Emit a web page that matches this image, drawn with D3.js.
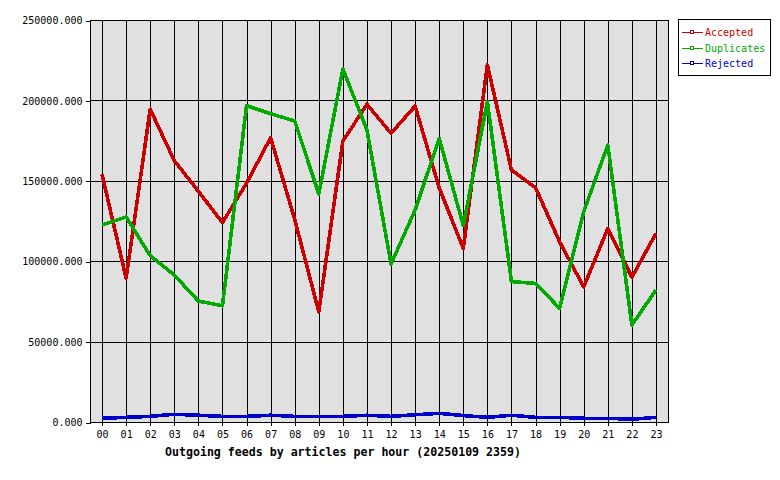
<!DOCTYPE html>
<html><head><meta charset="utf-8">
<script src="https://cdn.jsdelivr.net/npm/d3@7"></script>
<style>body{margin:0;background:#fff}svg{display:block}</style>
</head><body>
<svg id="c" width="780" height="480"></svg>
<script>
const hours = ["00","01","02","03","04","05","06","07","08","09","10","11","12","13","14","15","16","17","18","19","20","21","22","23"];
const accepted = [154000,89400,194500,162500,143500,124000,148500,176800,126000,68500,174700,197600,179500,196500,145500,108000,222000,156700,145700,112000,84000,120400,90000,117300];
const duplicates = [122500,127500,103400,91400,75200,72300,196700,191700,187200,141800,219500,181600,98300,131800,176400,122100,199200,87300,86200,70700,130800,172300,60300,82100];
const rejected = [2300,2900,3500,4800,4200,3500,3500,4200,3500,3500,3500,4200,3500,4500,5400,4000,2900,4200,2900,2900,2300,2300,1700,2900];
const yTicks = [0,50000,100000,150000,200000,250000];
const seriesNames = ["Accepted","Duplicates","Rejected"];
const colors = ["#cc0000","#00aa00","#0000cc"];
const title = "Outgoing feeds by articles per hour (20250109 2359)";

const svg = d3.select("#c");
const L = 90, R = 668, T = 20, B = 422;
const x = d3.scalePoint().domain(hours).range([L, R]).padding(0.5);
const y = d3.scaleLinear().domain([0, 250000]).range([B, T]);
const mono = "'DejaVu Sans Mono', monospace";

svg.append("rect").attr("x", L).attr("y", T).attr("width", R - L).attr("height", B - T).attr("fill", "#e0e0e0");

// grid
const g = svg.append("g").attr("shape-rendering", "crispEdges");
g.selectAll("line.h").data(yTicks).join("line")
  .attr("x1", L).attr("x2", R).attr("y1", d => Math.round(y(d)) + 0.5).attr("y2", d => Math.round(y(d)) + 0.5)
  .attr("stroke", "#000");
g.selectAll("line.v").data(hours).join("line")
  .attr("x1", d => Math.round(x(d)) + 0.5).attr("x2", d => Math.round(x(d)) + 0.5).attr("y1", T).attr("y2", B + 4)
  .attr("stroke", "#000");

// axes
const yAxis = d3.axisLeft(y).tickValues(yTicks).tickFormat(d3.format(".3f")).tickSize(5).tickPadding(3);
const ya = svg.append("g").attr("transform", `translate(${L + 0.5},0.5)`).call(yAxis);
ya.select(".domain").remove();
ya.selectAll("line").attr("shape-rendering", "crispEdges");
ya.selectAll("text").attr("font-family", mono).attr("font-size", 10).attr("fill", "#000");

const xAxis = d3.axisBottom(x).tickSize(0).tickPadding(9);
const xa = svg.append("g").attr("transform", `translate(0,${B})`).call(xAxis);
xa.select(".domain").remove();
xa.selectAll("text").attr("font-family", mono).attr("font-size", 10).attr("fill", "#000");

// border
svg.append("rect").attr("x", L + 0.5).attr("y", T + 0.5).attr("width", R - L).attr("height", B - T)
  .attr("fill", "none").attr("stroke", "#000").attr("shape-rendering", "crispEdges");

// lines
const line = d3.line().x((d, i) => x(hours[i])).y(d => y(d));
[accepted, duplicates, rejected].forEach((s, i) => {
  svg.append("path").datum(s).attr("d", line).attr("fill", "none")
    .attr("stroke", colors[i]).attr("stroke-width", 3.6).attr("stroke-linejoin", "round")
    .attr("shape-rendering", "crispEdges");
});

// title
svg.append("text").attr("x", (L + R) / 2 - 36).attr("y", 456).attr("text-anchor", "middle")
  .attr("font-family", mono).attr("font-size", 11.6).attr("font-weight", "bold").attr("fill", "#000").text(title);

// legend
const lg = svg.append("g");
lg.append("rect").attr("x", 678.5).attr("y", 19.5).attr("width", 92).attr("height", 56)
  .attr("fill", "#fff").attr("stroke", "#000").attr("shape-rendering", "crispEdges");
seriesNames.forEach((n, i) => {
  const yy = 32 + i * 15.5;
  lg.append("line").attr("x1", 682).attr("x2", 703).attr("y1", Math.round(yy) + 0.5).attr("y2", Math.round(yy) + 0.5)
    .attr("stroke", colors[i]).attr("shape-rendering", "crispEdges");
  lg.append("rect").attr("x", 690.5).attr("y", Math.round(yy) - 1.5).attr("width", 3).attr("height", 3)
    .attr("fill", "#fff").attr("stroke", colors[i]).attr("shape-rendering", "crispEdges");
  lg.append("text").attr("x", 705).attr("y", yy + 4).attr("font-family", mono).attr("font-size", 10)
    .attr("fill", colors[i]).text(n);
});
</script>
</body></html>
